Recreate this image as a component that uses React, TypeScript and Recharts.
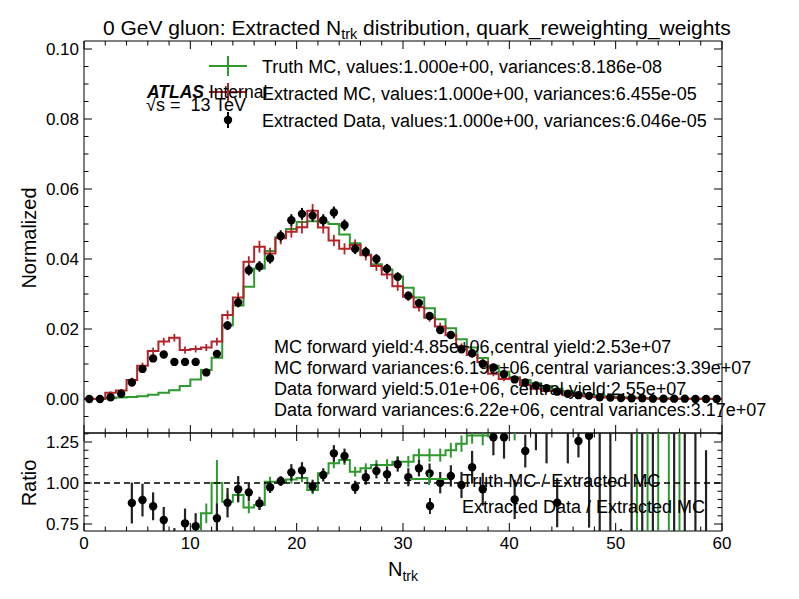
import React from "react";
import {
  ComposedChart,
  Line,
  Scatter,
  ErrorBar,
  XAxis,
  YAxis,
  ReferenceLine,
} from "recharts";

const FONT = '"Liberation Sans", Arial, Helvetica, sans-serif';
const GREEN = "#2e9a2e";
const RED = "#b3242a";
const BLACK = "#000000";

// bin edges of the N_trk histogram
const binEdges = [
  0, 1, 2, 3, 4, 5, 6, 7, 8, 9, 10, 11, 12, 13, 14, 15, 16, 17, 18, 19, 20,
  21, 22, 23, 24, 25, 26, 27, 28, 29, 30, 31, 32, 33, 34, 35, 36, 37, 38, 39,
  40, 41, 42, 43, 44, 45, 46, 47, 48, 49, 50, 51, 52, 53, 54, 55, 56, 57, 58,
  59, 60,
];
const binCenters = binEdges.slice(0, -1).map((e) => e + 0.5);

// top panel, normalized
const truthMC = [
  0.0, 0.0, 0.0002, 0.0004, 0.0006, 0.0008, 0.0012, 0.0018, 0.0025, 0.0037,
  0.0056, 0.0083, 0.0118, 0.0211, 0.0267, 0.0321, 0.0373, 0.0423, 0.0462, 0.0486,
  0.0506, 0.0508, 0.0505, 0.05, 0.047, 0.0445, 0.0413, 0.0385, 0.037, 0.035,
  0.0318, 0.029, 0.0259, 0.0228, 0.0202, 0.0171, 0.0147, 0.0117, 0.0095, 0.0078,
  0.0062, 0.0054, 0.0045, 0.0037, 0.0029, 0.0022, 0.0016, 0.0012, 0.0009, 0.0007,
  0.0005, 0.0004, 0.0003, 0.0002, 0.0002, 0.0001, 0.0001, 0.0001, 0.0001, 0.0,
];

const extractedMC = [
  0.0001, 0.0001, 0.0018, 0.0024, 0.0054, 0.0095, 0.0137, 0.0164, 0.0175, 0.014,
  0.0143, 0.0147, 0.0164, 0.024, 0.029, 0.0392, 0.0435, 0.0416, 0.0459, 0.0478,
  0.0491, 0.0538, 0.049, 0.0453, 0.0429, 0.044, 0.0411, 0.038, 0.0356, 0.0322,
  0.0292, 0.0262, 0.0232, 0.0207, 0.0182, 0.015, 0.0126, 0.0106, 0.0072, 0.0057,
  0.006, 0.004, 0.0029, 0.0023, 0.0023, 0.0011, 0.0009, 0.0007, 0.0005, 0.0004,
  0.0003, 0.0002, 0.0002, 0.0001, 0.0001, 0.0001, 0.0001, 0.0001, 0.0, 0.0,
];

const extractedMCErr = [
  0.0001, 0.0001, 0.0004, 0.0005, 0.0007, 0.0009, 0.001, 0.0011, 0.0011, 0.001,
  0.001, 0.001, 0.0011, 0.0013, 0.0014, 0.0016, 0.0017, 0.0016, 0.0017, 0.0017,
  0.0018, 0.0019, 0.0017, 0.0016, 0.0016, 0.0016, 0.0015, 0.0014, 0.0014, 0.0013,
  0.0012, 0.0012, 0.0011, 0.0011, 0.001, 0.0009, 0.0009, 0.0008, 0.0007, 0.0006,
  0.0006, 0.0005, 0.0004, 0.0004, 0.0004, 0.0003, 0.0003, 0.0002, 0.0002, 0.0002,
  0.0002, 0.0001, 0.0001, 0.0001, 0.0001, 0.0001, 0.0001, 0.0001, 0.0, 0.0,
];

const extractedData = [
  0.0, 0.0, 0.0005, 0.0015, 0.0047, 0.0086, 0.0116, 0.0127, 0.0106, 0.0106,
  0.0106, 0.0076, 0.0129, 0.021, 0.0276, 0.0368, 0.0379, 0.0402, 0.0466, 0.0511,
  0.0529, 0.0524, 0.0511, 0.0533, 0.0497, 0.0429, 0.042, 0.04, 0.0372, 0.0349,
  0.0295, 0.0274, 0.0237, 0.0197, 0.0183, 0.0142, 0.0131, 0.0101, 0.009, 0.0071,
  0.0056, 0.0047, 0.0039, 0.0031, 0.0021, 0.0015, 0.0011, 0.0009, 0.0005, 0.0004,
  0.0003, 0.0002, 0.0002, 0.0001, 0.0001, 0.0001, 0.0001, 0.0, 0.0, 0.0,
];

const extractedDataErr = [
  0.0001, 0.0001, 0.0003, 0.0005, 0.0007, 0.0009, 0.001, 0.001, 0.001, 0.001,
  0.001, 0.0009, 0.0011, 0.0013, 0.0014, 0.0015, 0.0015, 0.0015, 0.0016, 0.0017,
  0.0017, 0.0017, 0.0017, 0.0017, 0.0016, 0.0015, 0.0015, 0.0014, 0.0014, 0.0013,
  0.0012, 0.0012, 0.0011, 0.001, 0.001, 0.0009, 0.0008, 0.0008, 0.0007, 0.0006,
  0.0005, 0.0005, 0.0004, 0.0004, 0.0003, 0.0003, 0.0002, 0.0002, 0.0002, 0.0001,
  0.0001, 0.0001, 0.0001, 0.0001, 0.0001, 0.0001, 0.0001, 0.0001, 0.0, 0.0,
];

// ratio panel
const ratioTruth = [
  0.1, 0.15, 0.11, 0.17, 0.11, 0.08, 0.09, 0.11, 0.14, 0.26,
  0.39, 0.815, 1.0, 0.886, 0.927, 0.85, 0.866, 1.008, 1.008, 1.022,
  1.03, 0.957, 1.059, 1.12, 1.14, 1.069, 1.09, 1.11, 1.11, 1.13,
  1.13, 1.17, 1.17, 1.17, 1.2, 1.24, 1.29, 1.29, 1.36, 1.42,
  1.4, 1.55, 1.65, 1.75, 1.9, 2.0, 2.2, 2.4, 2.6, 2.8,
  3.0, 3.5, 0.4, 3.8, 0.3, 4.0, 0.3, 0.2, 0.1, 0.1,
];

const ratioTruthErr = [
  0, 0, 0, 0, 0, 0, 0.01, 0.01, 0.02, 0.03,
  0.04, 0.06, 0.14, 0.05, 0.04, 0.035, 0.03, 0.03, 0.025, 0.025,
  0.025, 0.025, 0.03, 0.03, 0.03, 0.03, 0.03, 0.03, 0.035, 0.035,
  0.035, 0.04, 0.04, 0.04, 0.045, 0.05, 0.05, 0.06, 0.06, 0.08,
  0.14, 0.15, 0.15, 0.2, 0.2, 0.25, 0.3, 0.3, 0.4, 0.4,
  0.5, 0.6, 0.2, 0.8, 0.2, 1.0, 0.2, 0.1, 0.1, 0.1,
];

const ratioData: (number | null)[] = [
  null, null, 0.28, 0.55, 0.878, 0.896, 0.858, 0.774, 0.61, 0.754,
  0.736, 0.52, 0.785, 0.88, 0.962, 0.943, 0.876, 0.974, 1.012, 1.065,
  1.077, 0.98, 1.049, 1.181, 1.165, 0.974, 1.035, 1.073, 1.053, 1.114,
  1.035, 1.09, 1.059, 1.002, 1.043, 0.988, 1.096, 0.962, 1.279, 1.279,
  0.9, 1.195, 1.4, 1.4, 0.88, 1.5, 1.256, 1.288, 1.45, 1.6,
  0.5, 2.2, 0.3, 2.0, null, 2.1, 0.4, 2.3, 0.45, null,
];

const ratioDataErr = [
  0, 0, 0.1, 0.1, 0.125, 0.1, 0.085, 0.08, 0.115, 0.09,
  0.08, 0.07, 0.09, 0.09, 0.08, 0.055, 0.04, 0.035, 0.03, 0.05,
  0.05, 0.04, 0.04, 0.05, 0.045, 0.04, 0.045, 0.045, 0.045, 0.045,
  0.055, 0.05, 0.06, 0.065, 0.065, 0.08, 0.1, 0.1, 0.11, 0.13,
  0.12, 0.1, 0.2, 0.28, 0.15, 0.38, 0.1, 0.56, 0.9, 1.0,
  0.22, 1.8, 1.2, 1.8, 0, 1.6, 1.4, 1.6, 0.75, 0,
];

// ticks
const xTicks = [
  0, 2, 4, 6, 8, 10, 12, 14, 16, 18, 20, 22, 24, 26, 28, 30, 32, 34, 36, 38,
  40, 42, 44, 46, 48, 50, 52, 54, 56, 58, 60,
];
const xMajor = [0, 10, 20, 30, 40, 50, 60];
const yTicksTop = [
  -0.005, 0, 0.005, 0.01, 0.015, 0.02, 0.025, 0.03, 0.035, 0.04, 0.045, 0.05,
  0.055, 0.06, 0.065, 0.07, 0.075, 0.08, 0.085, 0.09, 0.095, 0.1,
];
const yMajorTop = [0, 0.02, 0.04, 0.06, 0.08, 0.1];
const yTicksRatio = [0.75, 0.8, 0.85, 0.9, 0.95, 1.0, 1.05, 1.1, 1.15, 1.2, 1.25, 1.3];
const yMajorRatio = [0.75, 1.0, 1.25];
const topDomain = [-0.00971, 0.10229];
const ratioDomain = [0.7073, 1.305];

const topLegend = [
  "Truth MC, values:1.000e+00, variances:8.186e-08",
  "Extracted MC, values:1.000e+00, variances:6.455e-05",
  "Extracted Data, values:1.000e+00, variances:6.046e-05",
];
const yieldLines = [
  "MC forward yield:4.85e+06,central yield:2.53e+07",
  "MC forward variances:6.19e+06,central variances:3.39e+07",
  "Data forward yield:5.01e+06, central yield:2.55e+07",
  "Data forward variances:6.22e+06, central variances:3.17e+07",
];
const ratioLegend = ["Truth MC / Extracted MC", "Extracted Data / Extracted MC"];

const stepRows = (vals: number[]) =>
  binEdges.map((x, i) => ({ x, y: vals[Math.min(i, vals.length - 1)] }));

const pointRows = (vals: (number | null)[], errs: number[]) =>
  binCenters
    .map((x, i) => ({ x, y: vals[i], err: errs[i] }))
    .filter((r) => r.y !== null);

type Side = "bottom" | "top" | "left" | "right";

function inTick(side: Side, majors: number[], fmt: ((v: number) => string) | null) {
  return function Tick(props: any) {
    const x = Number(props.x);
    const y = Number(props.y);
    const v = Number(props.payload.value);
    const major = majors.some((m) => Math.abs(m - v) < 1e-7);
    const len = major ? 8 : 4.5;
    let tl;
    let label = null;
    if (side === "bottom") {
      tl = <line x1={x} y1={y} x2={x} y2={y - len} stroke="#000" strokeWidth={1} />;
      if (fmt && major)
        label = (
          <text x={x} y={y + 18} textAnchor="middle" fontSize={17} fill="#000">
            {fmt(v)}
          </text>
        );
    } else if (side === "top") {
      tl = <line x1={x} y1={y} x2={x} y2={y + len} stroke="#000" strokeWidth={1} />;
    } else if (side === "left") {
      tl = <line x1={x} y1={y} x2={x + len} y2={y} stroke="#000" strokeWidth={1} />;
      if (fmt && major)
        label = (
          <text x={x - 5} y={y + 6} textAnchor="end" fontSize={17} fill="#000">
            {fmt(v)}
          </text>
        );
    } else {
      tl = <line x1={x} y1={y} x2={x - len} y2={y} stroke="#000" strokeWidth={1} />;
    }
    return (
      <g>
        {tl}
        {label}
      </g>
    );
  };
}

const Dot = (p: any) => <circle cx={p.cx} cy={p.cy} r={4.2} fill={BLACK} />;
const NoDot = () => <g />;

// the four framing axes, ticks pointing inwards
function axisSet(
  yDomain: number[],
  yTicks: number[],
  yMajor: number[],
  yFmt: (v: number) => string,
  xFmt: ((v: number) => string) | null,
  xHeight: number
) {
  const common = {
    type: "number" as const,
    allowDataOverflow: true,
    interval: 0 as const,
    tickSize: 0,
    tickMargin: 0,
    tickLine: false,
    axisLine: false,
  };
  return [
    <XAxis key="xb" xAxisId="b" dataKey="x" domain={[0, 60]} ticks={xTicks} height={xHeight}
      tick={inTick("bottom", xMajor, xFmt)} {...common} />,
    <XAxis key="xt" xAxisId="t" orientation="top" dataKey="x" domain={[0, 60]} ticks={xTicks}
      height={1} tick={inTick("top", xMajor, null)} {...common} />,
    <YAxis key="yl" yAxisId="l" domain={yDomain} ticks={yTicks} width={60}
      tick={inTick("left", yMajor, yFmt)} {...common} />,
    <YAxis key="yr" yAxisId="r" orientation="right" domain={yDomain} ticks={yTicks} width={1}
      tick={inTick("right", yMajor, null)} {...common} />,
    <ReferenceLine key="f1" xAxisId="b" yAxisId="l" x={0} stroke="#000" strokeWidth={1} ifOverflow="visible" />,
    <ReferenceLine key="f2" xAxisId="b" yAxisId="l" x={60} stroke="#000" strokeWidth={1} ifOverflow="visible" />,
    <ReferenceLine key="f3" xAxisId="b" yAxisId="l" y={yDomain[0]} stroke="#000" strokeWidth={1} ifOverflow="visible" />,
    <ReferenceLine key="f4" xAxisId="b" yAxisId="l" y={yDomain[1]} stroke="#000" strokeWidth={1} ifOverflow="visible" />,
  ];
}

export default function App() {
  const truthRows = stepRows(truthMC);
  const mcRows = stepRows(extractedMC);
  const mcErrRows = pointRows(extractedMC, extractedMCErr);
  const dataRows = pointRows(extractedData, extractedDataErr);
  const ratioTruthRows = stepRows(ratioTruth);
  const ratioTruthErrRows = pointRows(ratioTruth, ratioTruthErr);
  const ratioDataRows = pointRows(ratioData, ratioDataErr);

  const layer = { position: "absolute" as const, left: 0, top: 0, width: 799, height: 599 };

  return (
    <div style={{ ...layer, background: "#fff", fontFamily: FONT }}>
      {/* top panel */}
      <div style={layer}>
        <ComposedChart width={799} height={440} margin={{ top: 40, right: 76, bottom: 6, left: 24 }}>
          {axisSet(topDomain, yTicksTop, yMajorTop, (v) => v.toFixed(2), null, 1)}
          <Line xAxisId="b" yAxisId="l" data={truthRows} dataKey="y" type="stepAfter"
            stroke={GREEN} strokeWidth={2} dot={false} isAnimationActive={false} />
          <Line xAxisId="b" yAxisId="l" data={mcRows} dataKey="y" type="stepAfter"
            stroke={RED} strokeWidth={2} dot={false} isAnimationActive={false} />
          <Scatter xAxisId="b" yAxisId="l" data={mcErrRows} dataKey="y" shape={NoDot}
            isAnimationActive={false}>
            <ErrorBar dataKey="err" direction="y" width={0} stroke={RED} strokeWidth={1.8} />
          </Scatter>
          <Scatter xAxisId="b" yAxisId="l" data={dataRows} dataKey="y" shape={Dot}
            isAnimationActive={false}>
            <ErrorBar dataKey="err" direction="y" width={0} stroke={BLACK} strokeWidth={2} />
          </Scatter>
        </ComposedChart>
      </div>

      {/* ratio panel: frame and ticks */}
      <div style={layer}>
        <ComposedChart width={799} height={599} margin={{ top: 432, right: 76, bottom: 38, left: 24 }}>
          {axisSet(ratioDomain, yTicksRatio, yMajorRatio, (v) => v.toFixed(2), (v) => String(v), 30)}
          <Line xAxisId="b" yAxisId="l" data={ratioTruthRows} dataKey="y" stroke="none"
            dot={false} isAnimationActive={false} />
        </ComposedChart>
      </div>

      {/* ratio panel: series, clipped to the plot area */}
      <div style={{ ...layer, clipPath: "inset(433px 77px 68px 84px)" }}>
        <ComposedChart width={799} height={599} margin={{ top: 433, right: 77, bottom: 68, left: 84 }}>
          <XAxis hide type="number" dataKey="x" domain={[0, 60]} allowDataOverflow />
          <YAxis hide type="number" domain={ratioDomain} allowDataOverflow />
          <Line data={ratioTruthRows} dataKey="y" type="stepAfter" stroke={GREEN}
            strokeWidth={2} dot={false} isAnimationActive={false} />
          <Scatter data={ratioTruthErrRows} dataKey="y" shape={NoDot} isAnimationActive={false}>
            <ErrorBar dataKey="err" direction="y" width={0} stroke={GREEN} strokeWidth={2} />
          </Scatter>
          <Scatter data={ratioDataRows} dataKey="y" shape={Dot} isAnimationActive={false}>
            <ErrorBar dataKey="err" direction="y" width={0} stroke="#222" strokeWidth={2.2} />
          </Scatter>
          <ReferenceLine y={1} stroke="#000" strokeWidth={1.5} strokeDasharray="6 4" />
        </ComposedChart>
      </div>

      <svg width={799} height={599} style={{ ...layer, pointerEvents: "none" }} fontFamily={FONT}>
        <text x={103} y={35} fontSize={21}>
          0 GeV gluon: Extracted N
          <tspan fontSize={14.5} dy={4}>trk</tspan>
          <tspan dy={-4}> distribution, quark_reweighting_weights</tspan>
        </text>

        <text transform="translate(36,238) rotate(-90)" textAnchor="middle" fontSize={20}>
          Normalized
        </text>
        <text transform="translate(36,483) rotate(-90)" textAnchor="middle" fontSize={20}>
          Ratio
        </text>
        <text x={403} y={576} textAnchor="middle" fontSize={20}>
          N<tspan fontSize={14} dy={5}>trk</tspan>
        </text>

        {/* top legend */}
        <g strokeWidth={2}>
          <line x1={209} y1={66} x2={247} y2={66} stroke={GREEN} />
          <line x1={228} y1={56} x2={228} y2={76} stroke={GREEN} />
          <line x1={209} y1={92} x2={247} y2={92} stroke={RED} />
          <line x1={228} y1={83} x2={228} y2={101} stroke={RED} />
          <line x1={228} y1={112} x2={228} y2={128} stroke={BLACK} />
          <circle cx={228} cy={120} r={4.2} fill={BLACK} />
        </g>
        {topLegend.map((t, i) => (
          <text key={t} x={262} y={72.5 + i * 27} fontSize={18}>
            {t}
          </text>
        ))}

        <text x={147} y={98} fontSize={17.5}>
          <tspan fontWeight="bold" fontStyle="italic">ATLAS</tspan>
          <tspan> Internal</tspan>
        </text>
        <text x={146} y={111} fontSize={18} style={{ whiteSpace: "pre" }}>
          {"√s =  13 TeV"}
        </text>

        {yieldLines.map((t, i) => (
          <text key={t} x={274} y={353 + i * 21} fontSize={18}>
            {t}
          </text>
        ))}

        {/* ratio legend */}
        <g strokeWidth={2}>
          <line x1={410} y1={479} x2={448} y2={479} stroke={GREEN} />
          <line x1={429} y1={473} x2={429} y2={485} stroke={GREEN} />
          <line x1={430} y1={498} x2={430} y2={514} stroke="#222" />
          <circle cx={430} cy={506} r={4.2} fill={BLACK} />
        </g>
        {ratioLegend.map((t, i) => (
          <text key={t} x={462} y={487 + i * 26} fontSize={18}>
            {t}
          </text>
        ))}
      </svg>
    </div>
  );
}
